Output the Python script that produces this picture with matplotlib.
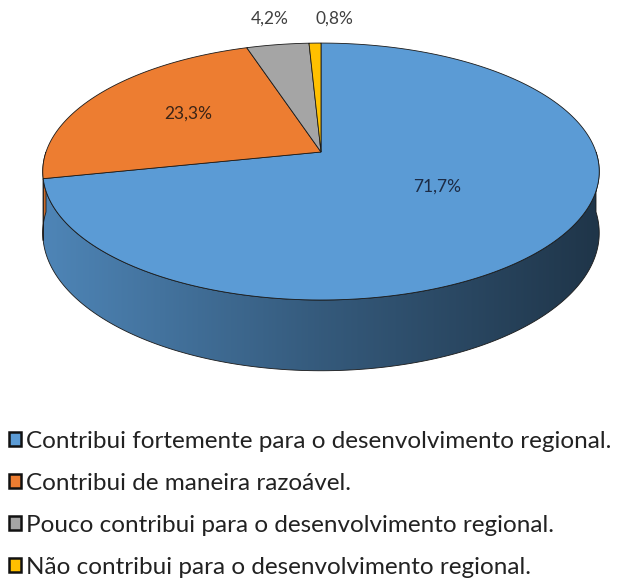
import numpy as np
import matplotlib
matplotlib.use("Agg")
import matplotlib.pyplot as plt
from matplotlib.patches import Polygon, Patch

plt.rcParams['font.family'] = ['Lato', 'DejaVu Sans']

# data
categories = [
    "Contribui fortemente para o desenvolvimento regional.",
    "Contribui de maneira razoável.",
    "Pouco contribui para o desenvolvimento regional.",
    "Não contribui para o desenvolvimento regional.",
]
values = [71.7, 23.3, 4.2, 0.8]
colors = ["#5b9bd5", "#ed7d31", "#a5a5a5", "#ffc000"]

# pie geometry (pixels), simple perspective
cx, cy = 321, 152
rx, ry = 275, 125.5
persp = 0.152
depth = 60

# label positions (pixels)
label_pos = [(437, 187), (188, 114), (270, 19), (334, 19)]
label_col = ["#1c2b45", "#3b2416", "#404040", "#404040"]


def proj(theta, r=1.0):
    t = np.radians(theta)
    u = r * np.cos(t)
    v = r * np.sin(t)
    f = 1.0 / (1.0 + persp * v)
    return cx + rx * u * f, cy - ry * v * f, f


def arc(a0, a1, n=200):
    th = np.linspace(a0, a1, n)
    return proj(th)


fig = plt.figure(figsize=(6.36, 5.86), dpi=100)
ax = fig.add_axes([0, 0, 1, 1])

total = sum(values)
spans = [v / total * 360 for v in values]
starts = 90 - np.concatenate([[0], np.cumsum(spans)[:-1]])
ends = starts - np.array(spans)

# side walls (front half: theta in [-180, 0])
for s, e, col in zip(starts, ends, colors):
    for off in (0, -360):
        a0, a1 = min(s + off, 0), max(e + off, -180)
        if a0 <= a1:
            continue
        x, y, f = arc(a0, a1)
        yb = y + depth * f
        pts = np.column_stack([np.r_[x, x[::-1]], np.r_[y, yb[::-1]]])
        poly = Polygon(pts, closed=True, facecolor="none",
                       edgecolor="#1a1a1a", lw=0.6, zorder=2)
        ax.add_patch(poly)
        base = np.array(matplotlib.colors.to_rgb(col))
        xs = np.linspace(cx - rx * 1.02, cx + rx * 1.02, 300)
        fac = np.interp(xs, [xs[0], cx, xs[-1]], [0.86, 0.58, 0.34])
        grad = (base[None, :] * fac[:, None])[None, :, :]
        im = ax.imshow(grad, extent=(xs[0], xs[-1], 400, 0),
                       aspect="auto", zorder=1, interpolation="bilinear")
        im.set_clip_path(poly)

# top face
for s, e, col in zip(starts, ends, colors):
    x, y, _ = arc(s, e)
    pts = np.column_stack([np.r_[cx, x], np.r_[cy, y]])
    ax.add_patch(Polygon(pts, closed=True, facecolor=col,
                         edgecolor="#1a1a1a", lw=0.6, zorder=3))

for v, (lx, ly), lc in zip(values, label_pos, label_col):
    ax.text(lx, ly, f"{v:.1f}%".replace(".", ","), ha="center", va="center",
            fontsize=12.5, color=lc, zorder=5)

handles = [Patch(facecolor=c, edgecolor="#111111", lw=1.8) for c in colors]
ax.legend(handles, categories, loc="upper left",
          bbox_to_anchor=(9 / 636, 1 - 431 / 586), frameon=False,
          fontsize=17.5, handlelength=0.5, handleheight=0.5,
          handletextpad=0.2, labelspacing=0.86, borderaxespad=0,
          borderpad=0, labelcolor="#222222")

ax.set_xlim(0, 636)
ax.set_ylim(586, 0)
ax.axis("off")
fig.savefig("out.png", dpi=100, facecolor="white")
